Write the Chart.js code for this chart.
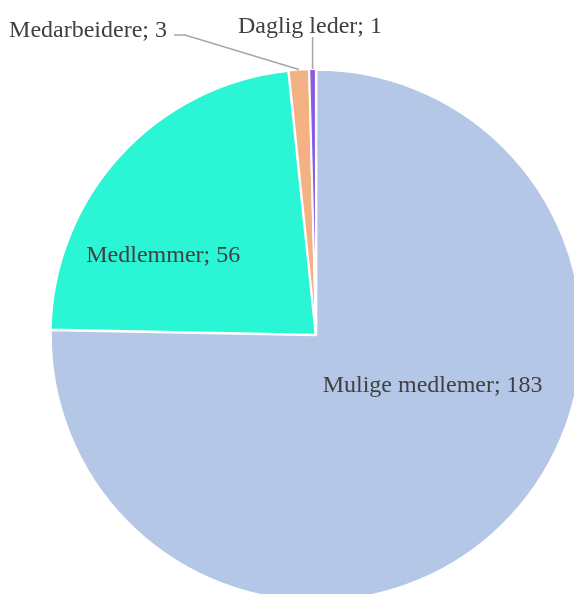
<!DOCTYPE html>
<html>
<head>
<meta charset="utf-8">
<script src="https://cdn.jsdelivr.net/npm/chart.js@4.4.0/dist/chart.umd.min.js"></script>
<style>
  html, body { margin: 0; padding: 0; background: #fff; overflow: hidden; }
  #wrap { position: relative; width: 574px; height: 594px; }
</style>
</head>
<body>
<div id="wrap"><canvas id="pieChart"></canvas></div>
<script>
// Data
const categories = ['Mulige medlemer', 'Medlemmer', 'Medarbeidere', 'Daglig leder'];
const counts = [183, 56, 3, 1];
const sliceColors = ['#b4c7e7', '#2af5d4', '#f4b183', '#8a5be0'];

// Where each label goes (angle clockwise from top, fraction of radius) or outside with a leader line
const labelSpots = [
  { angle: 113.5, r: 0.48 },
  { angle: 297.5, r: 0.65 },
  { x: 167, y: 31, align: 'right', line: [[174, 35], [185, 35]] },
  { x: 310, y: 27, align: 'center', line: [[null, 37]] }
];

const labelFont = '24px "Liberation Serif", "Times New Roman", serif';

// Draw the "name; value" labels
const pieLabels = {
  id: 'pieLabels',
  afterDatasetsDraw(chart) {
    const ctx = chart.ctx;
    const arcs = chart.getDatasetMeta(0).data;
    ctx.save();
    ctx.font = labelFont;
    ctx.fillStyle = '#404040';
    ctx.textBaseline = 'middle';
    arcs.forEach((arc, i) => {
      const spot = labelSpots[i];
      const text = categories[i] + '; ' + counts[i];
      const { x, y, outerRadius, startAngle, endAngle } = arc.getProps(['x', 'y', 'outerRadius', 'startAngle', 'endAngle'], true);
      if (spot.r !== undefined) {
        const a = (spot.angle - 90) * Math.PI / 180;
        ctx.textAlign = 'center';
        ctx.fillText(text, x + Math.cos(a) * outerRadius * spot.r, y + Math.sin(a) * outerRadius * spot.r);
      } else {
        const mid = (startAngle + endAngle) / 2;
        const ex = x + Math.cos(mid) * outerRadius;
        const ey = y + Math.sin(mid) * outerRadius;
        ctx.strokeStyle = '#a6a6a6';
        ctx.lineWidth = 1.5;
        ctx.beginPath();
        const pts = spot.line.map(p => [p[0] === null ? ex : p[0], p[1]]);
        ctx.moveTo(pts[0][0], pts[0][1]);
        for (let k = 1; k < pts.length; k++) ctx.lineTo(pts[k][0], pts[k][1]);
        ctx.lineTo(ex, ey - 1);
        ctx.stroke();
        ctx.textAlign = spot.align;
        ctx.fillText(text, spot.x, spot.y);
      }
    });
    ctx.restore();
  }
};

new Chart(document.getElementById('pieChart'), {
  type: 'pie',
  data: {
    labels: categories,
    datasets: [{
      data: counts,
      backgroundColor: sliceColors,
      borderColor: '#ffffff',
      borderWidth: 2,
      offset: 2,
      hoverOffset: 0,
      clip: false
    }]
  },
  options: {
    responsive: true,
    maintainAspectRatio: false,
    animation: false,
    radius: 265,
    layout: { padding: { left: 58, right: 0, top: 76, bottom: 0 } },
    plugins: {
      legend: { display: false },
      tooltip: { enabled: false }
    },
    events: []
  },
  plugins: [pieLabels]
});
</script>
</body>
</html>
